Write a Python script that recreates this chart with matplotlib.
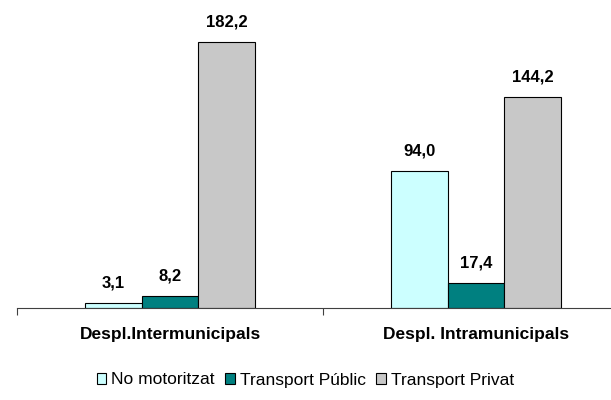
import numpy as np
from matplotlib import pyplot as plt

# Data
categories = ['Despl.Intermunicipals', 'Despl. Intramunicipals']
series = ['No motoritzat', 'Transport Públic', 'Transport Privat']
no_motoritzat = [3.1, 94.0]
transport_public = [8.2, 17.4]
transport_privat = [182.2, 144.2]
colors = ['#CCFFFF', '#008080', '#C8C8C8']

plt.rcParams['font.family'] = ['Liberation Sans', 'DejaVu Sans']

fig = plt.figure(figsize=(6.11, 4.0), dpi=100)
# axes extends past right edge like the original
ax = fig.add_axes([17 / 611, 92 / 400, 612 / 611, 292 / 400])

x = np.arange(len(categories))
w = 0.186
values = [no_motoritzat, transport_public, transport_privat]
for i, (name, vals, c) in enumerate(zip(series, values, colors)):
    bars = ax.bar(x + (i - 1) * w, vals, w, color=c, edgecolor='black',
                  linewidth=0.8, label=name)
    for b, v in zip(bars, vals):
        ax.annotate(f"{v:.1f}".replace('.', ','),
                    (b.get_x() + b.get_width() / 2, v),
                    xytext=(0, 9), textcoords='offset points',
                    ha='center', va='bottom', fontsize=12, fontweight='bold')

ax.set_xlim(-0.5, 1.5)
ax.set_ylim(0, 200)
for s in ['top', 'right', 'left']:
    ax.spines[s].set_visible(False)
ax.spines['bottom'].set_color('#404040')
ax.set_yticks([])

ax.set_xticks([-0.5, 0.5, 1.5])
ax.set_xticklabels([])
ax.tick_params(axis='x', which='major', length=5, direction='out', color='#404040')
ax.set_xticks(x, minor=True)
ax.set_xticklabels(categories, minor=True, fontsize=12.5, fontweight='bold')
ax.tick_params(axis='x', which='minor', length=0, pad=14)

fig.legend(loc='center', bbox_to_anchor=(0.5, 0.05), ncol=3, frameon=False,
           fontsize=12.5, handlelength=0.55, handleheight=0.55,
           handletextpad=0.3, columnspacing=0.6)

plt.savefig("out.png")
